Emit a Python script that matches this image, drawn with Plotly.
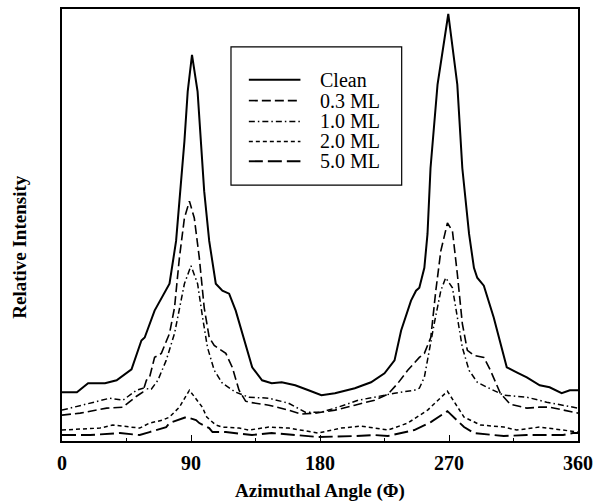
import plotly.graph_objects as go

# Azimuthal angle (degrees) and relative intensity (arbitrary units)
clean_phi = [0, 10.4, 18.2, 30, 38.1, 48.5, 55.4, 57.7, 64.6, 71.5, 75, 79.6, 82.6, 85.4, 87.7, 90.7,
             94.6, 97, 99.2, 102.7, 107.3, 111.9, 116.6, 121.2, 126.9, 132.7, 139.6, 146.3, 153.3,
             162.7, 172, 181, 190.4, 204.3, 215.6, 225, 232, 236.6, 243.5, 247, 249.3, 252.8, 255,
             257.1, 262, 269.5, 275.8, 279.3, 284, 287.4, 289.7, 294.3, 301.2, 308.2, 310.3, 317.2,
             324.3, 333.3, 340.2, 348.6, 354.3, 360]
clean_val = [49, 49, 58, 58, 61, 72, 101, 104, 131, 148, 158, 201, 251, 301, 351, 388,
             351, 301, 251, 201, 158, 151, 148, 131, 104, 74, 61, 58, 59,
             56, 51, 46, 48, 53, 59, 68, 81, 111, 141, 151, 154, 174, 208,
             274, 358, 429, 358, 274, 208, 174, 164, 156, 124, 85, 74, 69,
             64, 56, 54, 48, 51, 51]

ml03_phi = [0, 12.7, 31.2, 42.5, 52, 56.3, 58.9, 61.1, 64.6, 69.3, 75, 78.5, 81.9, 85.4, 88.9,
            92.3, 95.8, 99.2, 102.7, 106.2, 114.3, 118.8, 123.5, 128.1, 130.4, 144.3, 158, 167,
            176.6, 190.4, 204.3, 218.1, 227.4, 234.3, 241.2, 249.3, 252.8, 257.3, 260.8, 264.3,
            268.9, 272.4, 275.8, 279.3, 282.8, 287.4, 294.3, 298.9, 305.8, 312.7, 324.3, 333.3,
            340.2, 349.6, 360]
ml03_val = [26, 28, 33, 34, 45, 49, 61, 64, 84, 88, 108, 134, 184, 224, 241,
            224, 184, 134, 104, 96, 88, 74, 51, 40, 39, 36, 31, 27,
            28, 31, 36, 41, 47, 58, 71, 84, 88, 104, 151, 191,
            219, 211, 168, 118, 91, 86, 84, 71, 48, 37, 33, 34,
            34, 31, 28]

ml10_phi = [0, 19.6, 33.4, 42.5, 52, 56.5, 62.3, 66.9, 72.7, 78.5, 81.9, 85.4, 90, 94.6, 98.1,
            101.5, 106.2, 111.9, 121.2, 130.4, 144.3, 158, 169.7, 181, 192.7, 206.6, 218.1, 232,
            245.8, 249.3, 252.8, 256.2, 259.7, 264.3, 267.7, 272.4, 275.8, 279.3, 284, 289.7,
            296.6, 308.2, 324.3, 338.2, 360]
ml10_val = [31, 38, 43, 41, 51, 53, 52, 61, 81, 108, 131, 158, 176, 158, 124,
            94, 71, 58, 49, 44, 43, 38, 29, 29, 34, 41, 44, 48,
            51, 53, 64, 91, 118, 151, 164, 154, 124, 94, 71, 59,
            54, 46, 44, 39, 33]

ml20_phi = [0, 26.5, 35.5, 47.3, 54.2, 61.1, 70.2, 75, 81.9, 88.9, 93.5, 97.9, 101, 107.3, 111.7,
            123.5, 130.4, 144.3, 158, 178.9, 194.8, 208.7, 227.4, 241.2, 255.1, 268.9, 280.5, 292,
            308.2, 317.2, 333.3, 349.6, 360]
ml20_val = [11, 13, 16, 14, 13, 18, 21, 24, 34, 51, 42, 34, 24, 16, 14,
            13, 11, 14, 13, 8, 13, 15, 11, 18, 31, 50, 24, 16,
            14, 11, 14, 11, 9]

ml50_phi = [0, 19.6, 40.4, 54.2, 61.1, 72.7, 75, 86.6, 93.5, 95.8, 102.7, 105, 114.3, 132.5,
            146.3, 165, 178.9, 204.3, 218, 227.4, 245.8, 257.3, 268.9, 280.5, 287.4, 308.2,
            324.3, 349.6, 356.5, 360]
ml50_val = [6, 6, 8, 6, 9, 14, 18, 24, 21, 18, 13, 9, 9, 6,
            8, 6, 4, 5, 6, 5, 11, 19, 30, 14, 8, 5,
            6, 6, 8, 8]

names = ["Clean", "0.3 ML", "1.0 ML", "2.0 ML", "5.0 ML"]
series = [(clean_phi, clean_val), (ml03_phi, ml03_val), (ml10_phi, ml10_val),
          (ml20_phi, ml20_val), (ml50_phi, ml50_val)]
x_ticks = [0, 90, 180, 270, 360]

dashes = ["solid", "9px,4px", "6px,3px,1.5px,3px", "4px,3px", "14px,5px"]
widths = [2.0, 1.6, 1.5, 1.5, 1.9]

fig = go.Figure()
for (xs, ys), nm, d, w in zip(series, names, dashes, widths):
    fig.add_trace(go.Scatter(x=xs, y=ys, mode="lines", name=nm,
                             line=dict(color="black", width=w, dash=d),
                             showlegend=False))

serif = "Liberation Serif, Times New Roman, serif"

# Legend drawn as a framed box
L_x0, L_x1, L_y0, L_y1 = 0.3275, 0.6583, 0.5922, 0.9124
fig.add_shape(type="rect", xref="paper", yref="paper", x0=L_x0, x1=L_x1, y0=L_y0, y1=L_y1,
              line=dict(color="black", width=1.2), fillcolor="white", layer="above")
row_y = [0.8364, 0.788, 0.7396, 0.6935, 0.6475]
for nm, d, w, yy in zip(names, dashes, widths, row_y):
    fig.add_shape(type="line", xref="paper", yref="paper", x0=0.3621, x1=0.4621, y0=yy, y1=yy,
                  line=dict(color="black", width=w, dash=d), layer="above")
    fig.add_annotation(text=nm, xref="paper", yref="paper", x=0.4967, y=yy,
                       xanchor="left", yanchor="middle", showarrow=False,
                       font=dict(family=serif, size=20, color="black"))

fig.add_annotation(text="<b>Azimuthal Angle (Φ)</b>", xref="paper", yref="paper",
                   x=0.5, y=-0.115, xanchor="center", yanchor="middle",
                   showarrow=False, font=dict(family=serif, size=19, color="black"))
fig.add_annotation(text="<b>Relative Intensity</b>", xref="paper", yref="paper",
                   x=-0.083, y=0.45, xanchor="center", yanchor="middle", textangle=-90,
                   showarrow=False, font=dict(family=serif, size=19, color="black"))

fig.update_layout(
    width=600, height=502,
    margin=dict(l=62, r=18, t=7, b=61),
    paper_bgcolor="white", plot_bgcolor="white",
    xaxis=dict(range=[0, 360], tickvals=x_ticks, ticktext=[str(v) for v in x_ticks],
               ticks="inside", ticklen=6, tickwidth=1.2, tickcolor="black",
               minor=dict(ticks="inside", ticklen=3, dtick=45, tickcolor="black"),
               showline=True, linecolor="black", linewidth=2, mirror=True,
               showgrid=False, zeroline=False, ticklabelstandoff=3,
               tickfont=dict(family=serif, size=20, color="black", weight="bold")),
    yaxis=dict(range=[0, 434], showticklabels=False, ticks="",
               showline=True, linecolor="black", linewidth=2, mirror=True,
               showgrid=False, zeroline=False),
)

fig.write_html("out.html", config={"displayModeBar": False},
               post_script="document.body.style.margin='0';document.body.style.padding='0';")
